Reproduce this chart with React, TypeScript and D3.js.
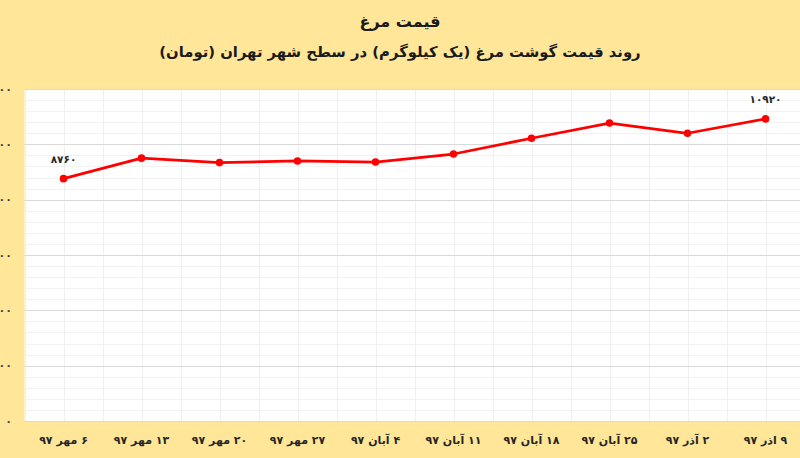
import React from "react";
import * as d3 from "d3";

const categories = [
  "۶ مهر ۹۷",
  "۱۳ مهر ۹۷",
  "۲۰ مهر ۹۷",
  "۲۷ مهر ۹۷",
  "۴ آبان ۹۷",
  "۱۱ آبان ۹۷",
  "۱۸ آبان ۹۷",
  "۲۵ آبان ۹۷",
  "۲ آذر ۹۷",
  "۹ اذر ۹۷",
];
const prices = [8760, 9500, 9340, 9400, 9360, 9650, 10220, 10770, 10400, 10920];
const labelledIndices = [0, 9];
const yTicks = [0, 2000, 4000, 6000, 8000, 10000, 12000];
const title = "قیمت مرغ";
const subtitle = "روند قیمت گوشت مرغ (یک کیلوگرم) در سطح شهر تهران (تومان)";

const W = 800;
const H = 458;
const plot = { left: 24.5, right: 804.5, top: 89, bottom: 421 };

const toFa = (n: number) =>
  String(n).replace(/[0-9]/g, (d) => "۰۱۲۳۴۵۶۷۸۹"[+d]);

export default function App() {
  const x = d3
    .scaleBand<string>()
    .domain(categories)
    .range([plot.left, plot.right])
    .paddingInner(0)
    .paddingOuter(0);
  const y = d3.scaleLinear().domain([0, 12000]).range([plot.bottom, plot.top]);
  const bw = x.bandwidth();
  const cx = (c: string) => (x(c) as number) + bw / 2;

  const minorTicks = d3.range(0, 12001, 400).filter((v) => v % 2000 !== 0);
  const vLines: number[] = [];
  categories.forEach((c) => {
    vLines.push(x(c) as number);
    vLines.push(cx(c));
  });

  const line = d3
    .line<number>()
    .x((_, i) => cx(categories[i]))
    .y((d) => y(d));

  const font = "'DejaVu Sans', 'Noto Sans', sans-serif";

  return (
    <svg
      width={W}
      height={H}
      style={{ position: "absolute", left: 0, top: 0, display: "block" }}
      fontFamily={font}
    >
      <rect x={0} y={0} width={W} height={H} fill="#FFE699" />
      <rect
        x={plot.left}
        y={plot.top}
        width={plot.right - plot.left}
        height={plot.bottom - plot.top}
        fill="#ffffff"
      />
      {minorTicks.map((v) => (
        <line
          key={"m" + v}
          x1={plot.left}
          x2={plot.right}
          y1={Math.round(y(v)) + 0.5}
          y2={Math.round(y(v)) + 0.5}
          stroke="#f2f2f2"
          strokeWidth={1}
        />
      ))}
      {vLines.map((vx, i) => (
        <line
          key={"v" + i}
          x1={Math.round(vx) + 0.5}
          x2={Math.round(vx) + 0.5}
          y1={plot.top}
          y2={plot.bottom}
          stroke="#efefef"
          strokeWidth={1}
        />
      ))}
      {yTicks.map((v) => (
        <line
          key={"M" + v}
          x1={plot.left}
          x2={plot.right}
          y1={Math.round(y(v)) + 0.5}
          y2={Math.round(y(v)) + 0.5}
          stroke="#d9d9d9"
          strokeWidth={1}
        />
      ))}
      {yTicks.map((v) => (
        <text
          key={"yl" + v}
          x={12}
          y={y(v)}
          textAnchor="end"
          dominantBaseline="central"
          fontSize={11}
          fontWeight="bold"
          fill="#404040"
        >
          {toFa(v)}
        </text>
      ))}
      {categories.map((c) => (
        <text
          key={"xl" + c}
          x={cx(c)}
          y={440}
          textAnchor="middle"
          dominantBaseline="central"
          fontSize={11}
          fontWeight="bold"
          fill="#262626"
          direction="rtl"
          style={{ unicodeBidi: "plaintext" } as any}
        >
          {c}
        </text>
      ))}
      <path
        d={line(prices) || ""}
        fill="none"
        stroke="#ff0000"
        strokeWidth={2.75}
        strokeLinejoin="round"
      />
      {prices.map((v, i) => (
        <circle key={"p" + i} cx={cx(categories[i])} cy={y(v)} r={3.8} fill="#ff0000" />
      ))}
      {labelledIndices.map((i) => (
        <text
          key={"dl" + i}
          x={cx(categories[i])}
          y={y(prices[i]) - 20}
          textAnchor="middle"
          dominantBaseline="central"
          fontSize={10.5}
          fontWeight="bold"
          fill="#262626"
        >
          {toFa(prices[i])}
        </text>
      ))}
      <text
        x={400}
        y={21}
        textAnchor="middle"
        dominantBaseline="central"
        fontSize={16}
        fontWeight="bold"
        fill="#1a1a1a"
        direction="rtl"
      >
        {title}
      </text>
      <text
        x={400}
        y={51}
        textAnchor="middle"
        dominantBaseline="central"
        fontSize={14.8}
        fontWeight="bold"
        fill="#1a1a1a"
        direction="rtl"
      >
        {subtitle}
      </text>
    </svg>
  );
}
